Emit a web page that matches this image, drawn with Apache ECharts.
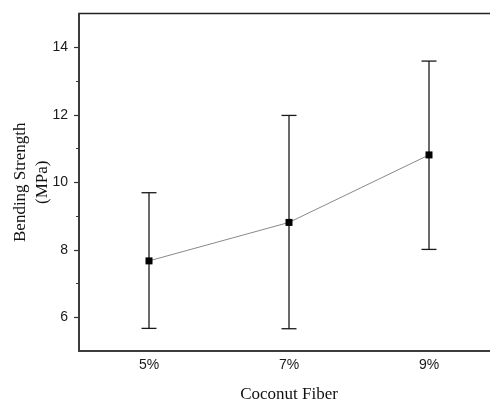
<!DOCTYPE html>
<html>
<head>
<meta charset="utf-8">
<script src="https://cdn.jsdelivr.net/npm/echarts@6/dist/echarts.min.js"></script>
<style>
  html, body { margin: 0; padding: 0; background: #fff; }
  #chart { width: 490px; height: 400px; }
</style>
</head>
<body>
<div id="chart"></div>
<script>
// coconut fiber content vs bending strength, with error bars
const categories = ['5%', '7%', '9%'];
const means = [7.67, 8.81, 10.81];
const upper = [9.69, 11.98, 13.59];
const lower = [5.67, 5.66, 8.01];
const yTicks = [6, 8, 10, 12, 14];
const yMinorTicks = [7, 9, 11, 13];

const chart = echarts.init(document.getElementById('chart'));

const errData = categories.map((c, i) => [i, lower[i], upper[i]]);

const axisColor = '#333';

const option = {
    animation: false,
    grid: {
        left: 79,
        right: -9, // the box runs past the right edge in the original
        top: 13.5,
        bottom: 49,
        outerBoundsMode: 'none',
        containLabel: false,
        show: true,
        borderColor: '#222',
        borderWidth: 1.5
    },
    xAxis: {
        type: 'category',
        data: categories,
        boundaryGap: true,
        name: 'Coconut Fiber',
        nameLocation: 'middle',
        nameGap: 35,
        nameMoveOverlap: false,
        nameTextStyle: { fontFamily: 'Liberation Serif', fontSize: 17, color: '#111' },
        axisLine: { lineStyle: { color: axisColor, width: 1.5 } },
        axisTick: { alignWithLabel: true, length: 5, lineStyle: { color: axisColor, width: 1.2 } },
        axisLabel: { fontFamily: 'Liberation Sans', fontSize: 14, color: '#1a1a1a', margin: 7 },
        splitLine: { show: false }
    },
    yAxis: [
        {
            type: 'value',
            min: 5,
            max: 15,
            name: 'Bending Strength\n(MPa)',
            nameLocation: 'middle',
            nameGap: 25,
            nameMoveOverlap: false,
            nameTextStyle: { fontFamily: 'Liberation Serif', fontSize: 17, color: '#111', lineHeight: 22 },
            axisLine: { show: true, lineStyle: { color: axisColor, width: 1.5 } },
            axisTick: { show: true, length: 5, customValues: yTicks, lineStyle: { color: axisColor, width: 1.2 } },
            axisLabel: {
                fontFamily: 'Liberation Sans', fontSize: 14, color: '#1a1a1a', margin: 11,
                customValues: yTicks
            },
            splitLine: { show: false }
        },
        {
            // short ticks at the odd values
            type: 'value',
            min: 5,
            max: 15,
            position: 'left',
            axisLine: { show: false },
            axisTick: { show: true, length: 3, customValues: yMinorTicks, lineStyle: { color: axisColor, width: 1 } },
            axisLabel: { show: false },
            splitLine: { show: false }
        }
    ],
    series: [
        {
            type: 'custom',
            data: errData,
            z: 2,
            renderItem: function (params, api) {
                const x = api.value(0);
                const lo = api.coord([x, api.value(1)]);
                const hi = api.coord([x, api.value(2)]);
                const half = 7.5;
                const style = { stroke: '#1a1a1a', lineWidth: 1.3 };
                return {
                    type: 'group',
                    children: [
                        { type: 'line', shape: { x1: hi[0], y1: hi[1], x2: lo[0], y2: lo[1] }, style },
                        { type: 'line', shape: { x1: hi[0] - half, y1: hi[1], x2: hi[0] + half, y2: hi[1] }, style },
                        { type: 'line', shape: { x1: lo[0] - half, y1: lo[1], x2: lo[0] + half, y2: lo[1] }, style }
                    ]
                };
            }
        },
        {
            type: 'line',
            data: means,
            z: 3,
            symbol: 'rect',
            symbolSize: 7,
            itemStyle: { color: '#000' },
            lineStyle: { color: '#888', width: 1 }
        }
    ]
};

chart.setOption(option);
</script>
</body>
</html>
